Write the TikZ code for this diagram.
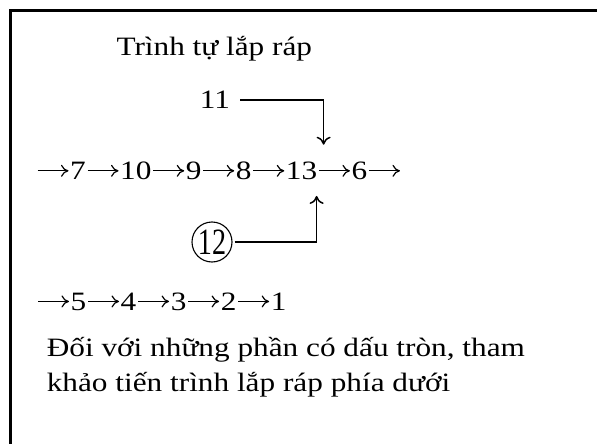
\documentclass[tikz,border=0pt]{standalone}
\usepackage{fontspec}
\usepackage{graphicx}
\setmainfont{Liberation Serif}[FakeStretch=1.18]
\usetikzlibrary{positioning,arrows.meta}

\begin{document}
\begin{tikzpicture}[
    x=1pt, y=-1pt,
    every node/.style={font=\fontsize{26.5}{30}\selectfont},
    num/.style={inner sep=0pt},
    flow/.style={draw, line width=1.2pt, shorten <=1.5pt, shorten >=1.5pt, -{To[length=7.5pt,width=12pt]}},
    feed/.style={draw, line width=1.5pt, -{To[length=8pt,width=14pt]}},
    ringed/.style={circle, draw, line width=1.1pt, inner sep=0.5pt, minimum size=40pt},
    frame/.style={line width=2.7pt}
]
\useasboundingbox (0,0) rectangle (597,444);
% Khung
\draw[frame] (597,10.5) -- (10.5,10.5) -- (10.5,444);

% Tieu de
\node[anchor=base west] (title) at (113,56) {Trình tự lắp ráp};

% Hang chinh
\node[num, anchor=base west] (n7) at (70,179.5) {7};
\node[num, right=34pt of n7] (n10) {10};
\node[num, right=34pt of n10] (n9) {9};
\node[num, right=34pt of n9] (n8) {8};
\node[num, right=34pt of n8] (n13) {13};
\node[num, right=34pt of n13] (n6) {6};
\coordinate[left=34pt of n7] (in7);
\coordinate[right=34pt of n6] (out6);
\draw (in7) edge[flow] (n7)
      (n7) edge[flow] (n10)
      (n10) edge[flow] (n9)
      (n9) edge[flow] (n8)
      (n8) edge[flow] (n13)
      (n13) edge[flow] (n6)
      (n6) edge[flow] (out6);

% Nhanh vao 13
\node[num] (n11) at (215,100.2) {11};
\node[ringed] (n12) at (212,242) {\scalebox{0.9}[1.4]{12}};
\draw[feed] ([xshift=10pt]n11.east) -| ([xshift=22pt,yshift=17pt]n13.north);
\draw[feed] ([xshift=2pt]n12.east) -| ([xshift=15pt,yshift=-16pt]n13.south);

% Hang thu hai
\node[num, anchor=base west] (n5) at (70.5,310) {5};
\node[num, right=34pt of n5] (n4) {4};
\node[num, right=34pt of n4] (n3) {3};
\node[num, right=34pt of n3] (n2) {2};
\node[num, right=34pt of n2] (n1) {1};
\coordinate[left=34pt of n5] (in5);
\draw (in5) edge[flow] (n5)
      (n5) edge[flow] (n4)
      (n4) edge[flow] (n3)
      (n3) edge[flow] (n2)
      (n2) edge[flow] (n1);

% Ghi chu
\node[anchor=base west] (note1) at (43.3,356.7) {Đối với những phần có dấu tròn, tham};
\node[anchor=base west] (note2) at (43.3,391.5) {khảo tiến trình lắp ráp phía dưới};
\end{tikzpicture}
\end{document}
